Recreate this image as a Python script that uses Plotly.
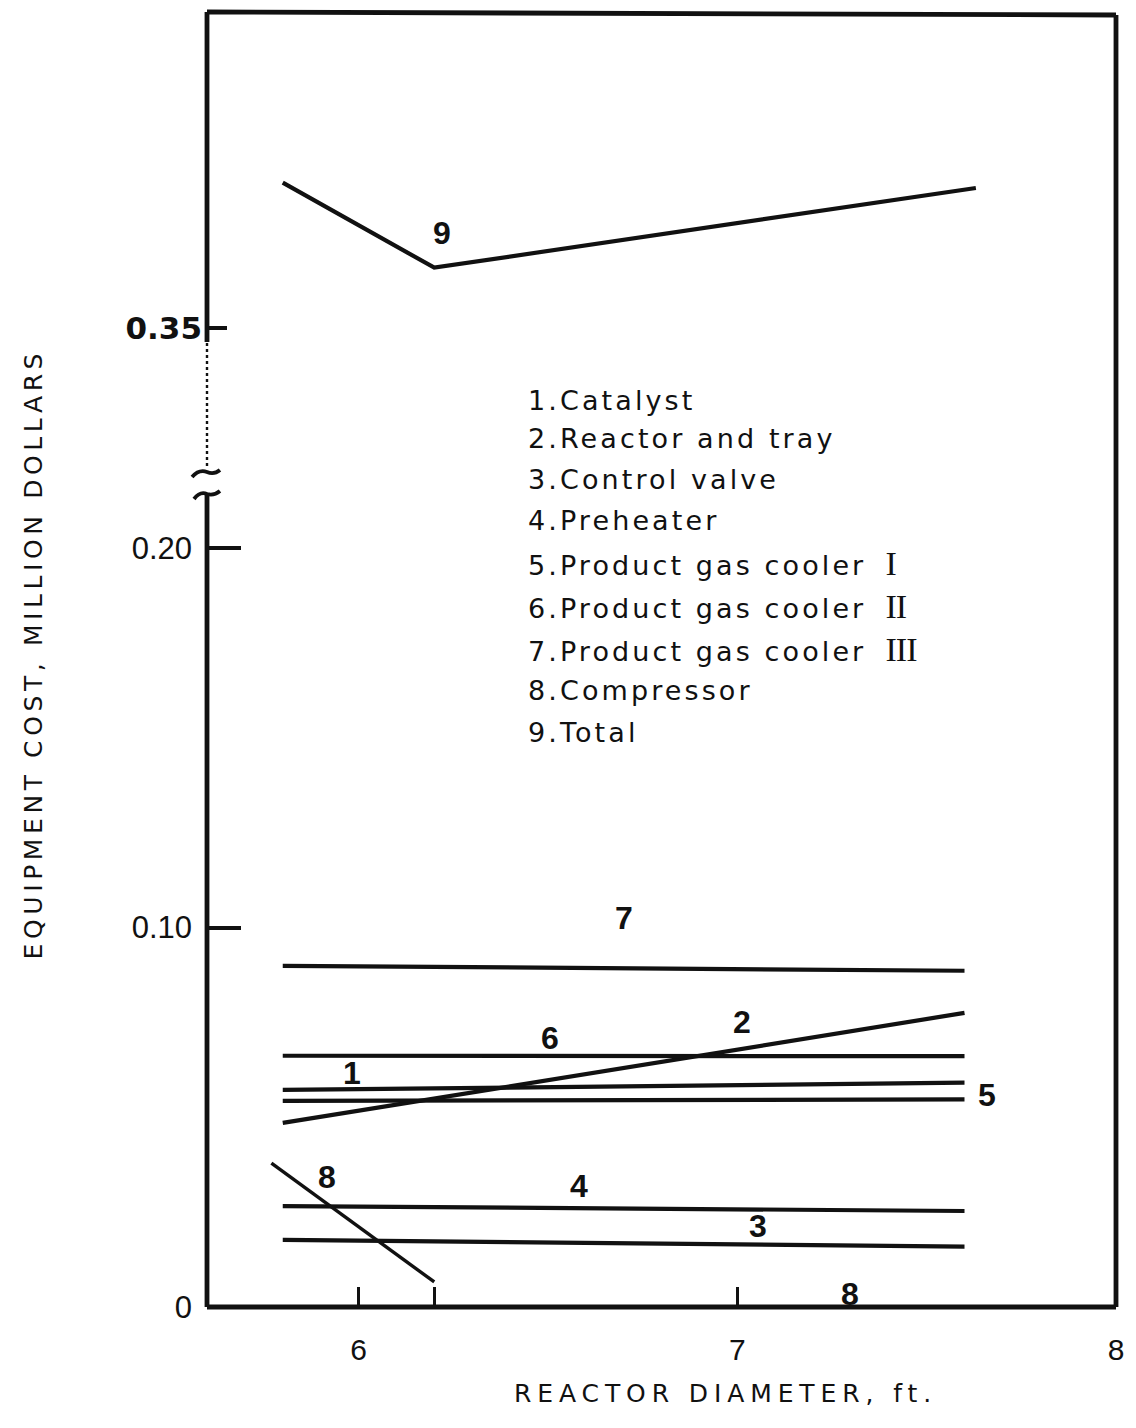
import plotly.graph_objects as go

# ---- data: equipment cost (million dollars) vs reactor diameter (ft) ----
diameter = [5.8, 7.6]                      # span of the component curves
catalyst = [0.0572, 0.0591]                # 1
reactor_and_tray = [0.0485, 0.0775]        # 2
control_valve = [0.0177, 0.0159]           # 3
preheater = [0.0266, 0.0253]               # 4
gas_cooler_1 = [0.0543, 0.0547]            # 5
gas_cooler_2 = [0.0662, 0.0661]            # 6
gas_cooler_3 = [0.0899, 0.0886]            # 7
compressor_diameter = [5.77, 6.2]
compressor = [0.0379, 0.0066]              # 8
total_diameter = [5.8, 6.2, 7.63]
total = [0.3883, 0.3659, 0.3869]           # 9

legend_items = [
    "1.Catalyst",
    "2.Reactor and tray",
    "3.Control valve",
    "4.Preheater",
    "5.Product gas cooler {I}",
    "6.Product gas cooler {II}",
    "7.Product gas cooler {III}",
    "8.Compressor",
    "9.Total",
]

x_ticks = [6, 6.2, 7, 8]
x_tick_text = ["6", "", "7", "8"]
y_low_ticks = [0, 0.1, 0.2]
y_low_text = ["0", "0.10", "0.20"]
y_high_ticks = [0.35]
y_high_text = ["<b>0.35</b>"]

# ---- page geometry (pixels) ----
W, H = 1136, 1428
ML, MR, MT, MB = 207, 18, 12, 121
PW, PH = W - ML - MR, H - MT - MB
Y0_PX = H - MB            # pixel row of the bottom axis
BREAK_PX = 480            # pixel row where the value axis is broken
PX_PER_UNIT = 3795.0      # both panels share the same vertical scale


def px(x):
    return (x - ML) / PW


def py(y):
    return (Y0_PX - y) / PH


split = py(BREAK_PX)
low_range = [0, (Y0_PX - BREAK_PX) / PX_PER_UNIT]
y035_px = 328
high_range = [0.35 - (BREAK_PX - y035_px) / PX_PER_UNIT,
              0.35 + (y035_px - MT) / PX_PER_UNIT]

INK = "#111111"
FONT = "DejaVu Sans"
LINE_W = 4.2

fig = go.Figure()

components = [catalyst, reactor_and_tray, control_valve, preheater,
              gas_cooler_1, gas_cooler_2, gas_cooler_3]
for values in components:
    fig.add_trace(go.Scatter(x=diameter, y=values, mode="lines",
                             line=dict(color=INK, width=LINE_W),
                             xaxis="x", yaxis="y", hoverinfo="skip"))

fig.add_trace(go.Scatter(x=compressor_diameter, y=compressor, mode="lines",
                         line=dict(color=INK, width=3.4),
                         xaxis="x", yaxis="y", hoverinfo="skip"))
fig.add_trace(go.Scatter(x=total_diameter, y=total, mode="lines",
                         line=dict(color=INK, width=LINE_W),
                         xaxis="x", yaxis="y2", hoverinfo="skip"))

# ---- curve numbers ----
curve_labels = [
    ("9", 6.221, 0.375, "y2"),
    ("7", 6.70, 0.1025, "y"),
    ("6", 6.505, 0.0709, "y"),
    ("2", 7.013, 0.0751, "y"),
    ("1", 5.984, 0.0617, "y"),
    ("5", 7.66, 0.0559, "y"),
    ("4", 6.582, 0.0319, "y"),
    ("3", 7.055, 0.0213, "y"),
    ("8", 5.916, 0.0343, "y"),
    ("8", 7.297, 0.0034, "y"),
]
for text, xv, yv, yref in curve_labels:
    fig.add_annotation(x=xv, y=yv, xref="x", yref=yref, text="<b>" + text + "</b>",
                       showarrow=False, xanchor="center", yanchor="middle",
                       font=dict(family="Liberation Sans", size=32, color=INK))

# ---- key ----
legend_rows_px = [400, 439, 479, 520, 563, 606, 650, 690, 732]
for item, row in zip(legend_items, legend_rows_px):
    if "{" in item:
        head, roman = item.split("{")
        roman = roman.rstrip("}")
        label = (head + '<span style="font-family:Liberation Serif;font-size:34px;'
                 'letter-spacing:-1px"> ' + roman + "</span>")
    else:
        label = item
    fig.add_annotation(x=px(527), y=py(row), xref="paper", yref="paper",
                       text='<span style="letter-spacing:3.1px">' + label + "</span>",
                       showarrow=False, xanchor="left", yanchor="middle",
                       font=dict(family=FONT, size=27, color=INK))

# ---- axis titles ----
fig.add_annotation(x=px(33), y=py(654), xref="paper", yref="paper",
                   text='<span style="letter-spacing:4.6px">EQUIPMENT COST, MILLION DOLLARS</span>',
                   textangle=-90, showarrow=False, xanchor="center", yanchor="middle",
                   font=dict(family=FONT, size=25, color=INK))
fig.add_annotation(x=px(727), y=py(1393), xref="paper", yref="paper",
                   text='<span style="letter-spacing:5.9px">REACTOR DIAMETER, ft.</span>',
                   showarrow=False, xanchor="center", yanchor="middle",
                   font=dict(family=FONT, size=25, color=INK))

# ---- frame, drawn as separate strokes so the broken axis can be shown ----
frame_w = 4.8
shapes = [
    dict(type="line", xref="paper", yref="paper", x0=0, x1=1, y0=0, y1=0,
         line=dict(color=INK, width=frame_w)),
    dict(type="line", xref="paper", yref="paper", x0=1, x1=1, y0=0, y1=py(15),
         line=dict(color=INK, width=frame_w)),
    dict(type="line", xref="paper", yref="paper", x0=0, x1=px(1118), y0=1, y1=py(15),
         line=dict(color=INK, width=frame_w)),
    dict(type="line", xref="paper", yref="paper", x0=0, x1=0, y0=0, y1=py(494),
         line=dict(color=INK, width=frame_w)),
    dict(type="line", xref="paper", yref="paper", x0=0, x1=0, y0=py(342), y1=1,
         line=dict(color=INK, width=frame_w)),
    dict(type="line", xref="paper", yref="paper", x0=0, x1=0, y0=py(466), y1=py(342),
         line=dict(color=INK, width=2.4, dash="dot")),
]


def path_px(points):
    cmd = []
    for op, pts in points:
        coords = " ".join(f"{px(a):.5f},{py(b):.5f}" for a, b in pts)
        cmd.append(op + " " + coords)
    return " ".join(cmd)


# break marks on the value axis
shapes.append(dict(type="path", xref="paper", yref="paper",
                   path=path_px([("M", [(192, 477)]), ("Q", [(199, 469), (207, 472)]),
                                 ("Q", [(214, 475), (220, 470)])]),
                   line=dict(color=INK, width=3.8)))
shapes.append(dict(type="path", xref="paper", yref="paper",
                   path=path_px([("M", [(194, 499)]), ("Q", [(200, 491), (207, 494)]),
                                 ("Q", [(214, 496), (220, 491)])]),
                   line=dict(color=INK, width=3.8)))

fig.update_layout(
    width=W, height=H,
    margin=dict(l=ML, r=MR, t=MT, b=MB, pad=0),
    paper_bgcolor="white", plot_bgcolor="white",
    showlegend=False,
    shapes=shapes,
    xaxis=dict(range=[5.6, 8.0], domain=[0, 1], anchor="y",
               showline=False, showgrid=False, zeroline=False,
               tickmode="array", tickvals=x_ticks, ticktext=x_tick_text,
               ticks="inside", ticklen=20, tickwidth=3, tickcolor=INK,
               ticklabelstandoff=22,
               tickfont=dict(family="Liberation Sans", size=30, color=INK)),
    yaxis=dict(range=low_range, domain=[0, split], anchor="x",
               showline=False, showgrid=False, zeroline=False,
               tickmode="array", tickvals=y_low_ticks, ticktext=y_low_text,
               ticks="inside", ticklen=34, tickwidth=3.5, tickcolor=INK,
               ticklabelstandoff=14,
               tickfont=dict(family="Liberation Sans", size=31, color=INK)),
    yaxis2=dict(range=high_range, domain=[split, 1], anchor="x",
                showline=False, showgrid=False, zeroline=False,
                tickmode="array", tickvals=y_high_ticks, ticktext=y_high_text,
                ticks="inside", ticklen=20, tickwidth=3.5, tickcolor=INK,
                ticklabelstandoff=4,
                tickfont=dict(family="DejaVu Sans", size=31, color=INK)),
)

fig.write_html("out.html")
